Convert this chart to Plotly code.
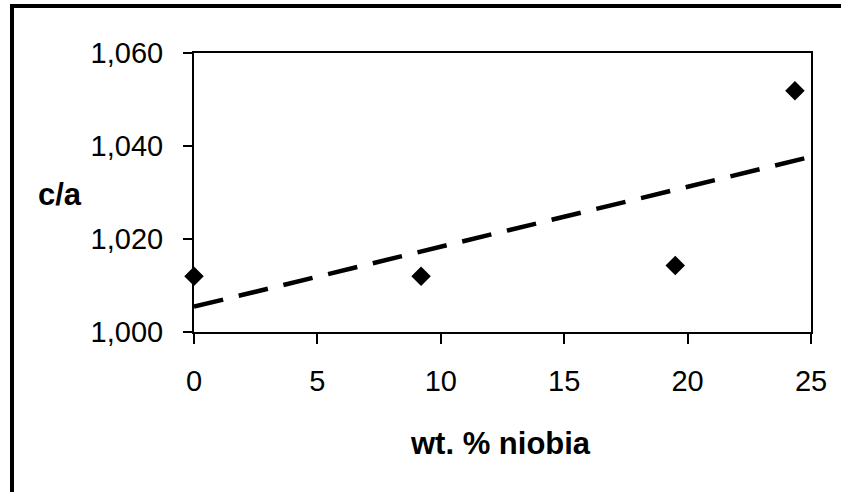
import numpy as np
import plotly.graph_objects as go

# Data
niobia_wt = [0.0, 9.2, 19.5, 24.35]
c_over_a = [1.012, 1.012, 1.0143, 1.0519]

y_tickvals = [1.000, 1.020, 1.040, 1.060]
y_ticktext = ["1,000", "1,020", "1,040", "1,060"]
x_tickvals = [0, 5, 10, 15, 20, 25]
x_ticktext = ["0", "5", "10", "15", "20", "25"]

# Linear trendline (least squares) over the full axis range
slope, intercept = np.polyfit(niobia_wt, c_over_a, 1)
trend_x = [0, 25]
trend_y = [intercept + slope * v for v in trend_x]

W, H = 841, 492
L, R, T, B = 194, 30, 53, 160
pw, ph = W - L - R, H - T - B

def px(x):
    return (x - L) / pw

def py(y):
    return (H - B - y) / ph

font = "Liberation Sans, Arial, sans-serif"

fig = go.Figure()
fig.add_trace(go.Scatter(
    x=trend_x, y=trend_y, mode="lines",
    line=dict(color="black", width=4.5, dash="30px,16px"),
    showlegend=False, hoverinfo="skip"))
fig.add_trace(go.Scatter(
    x=niobia_wt, y=c_over_a, mode="markers",
    marker=dict(symbol="diamond", size=15, color="black"),
    showlegend=False, cliponaxis=False))

axis_common = dict(
    showgrid=False, zeroline=False, showline=True, linecolor="black",
    linewidth=2, mirror=True, ticks="outside", tickcolor="black",
    tickwidth=2, tickfont=dict(family=font, size=29, color="black"))

fig.update_xaxes(range=[0, 25], tickvals=x_tickvals, ticktext=x_ticktext,
                 ticklen=10, ticklabelstandoff=12, **axis_common)
fig.update_yaxes(range=[1.0, 1.06], tickvals=y_tickvals, ticktext=y_ticktext,
                 ticklen=9, ticklabelstandoff=14, **axis_common)

fig.add_annotation(text="<b>c/a</b>", xref="paper", yref="paper",
                   x=px(60), y=py(195), showarrow=False,
                   xanchor="center", yanchor="middle",
                   font=dict(family=font, size=31, color="black"))
fig.add_annotation(text="<b>wt. % niobia</b>", xref="paper", yref="paper",
                   x=px(500), y=py(443), showarrow=False,
                   xanchor="center", yanchor="middle",
                   font=dict(family=font, size=31, color="black"))

# Outer frame (top and left edges visible)
fig.add_shape(type="line", xref="paper", yref="paper",
              x0=px(10), x1=px(845), y0=py(6), y1=py(6),
              line=dict(color="black", width=4))
fig.add_shape(type="line", xref="paper", yref="paper",
              x0=px(12), x1=px(12), y0=py(4), y1=py(495),
              line=dict(color="black", width=4))

fig.update_layout(
    width=W, height=H, margin=dict(l=L, r=R, t=T, b=B, autoexpand=False),
    paper_bgcolor="white", plot_bgcolor="white")

fig.write_html("out.html", config={"displayModeBar": False},
               post_script="document.body.style.margin='0';document.body.style.overflow='hidden';")
